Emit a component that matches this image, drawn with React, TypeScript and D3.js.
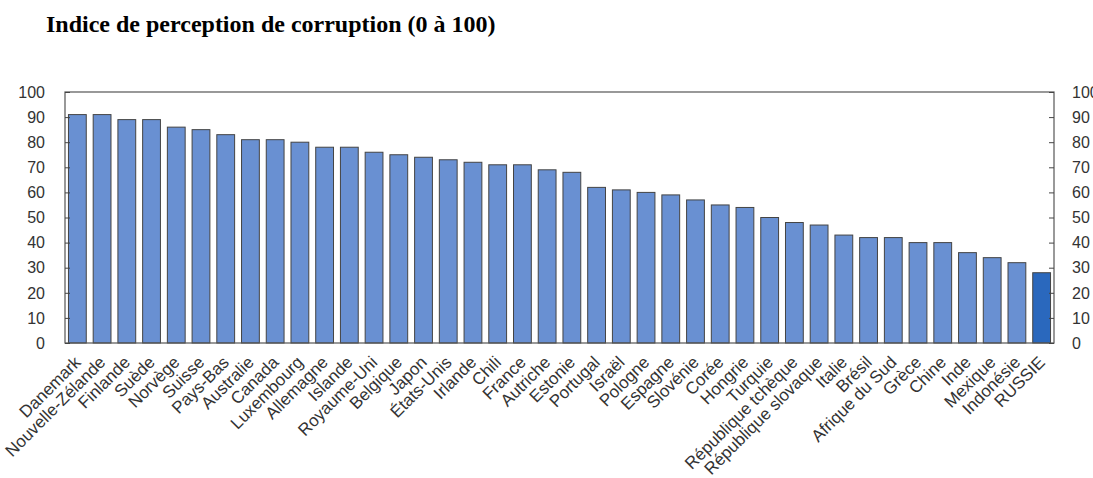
import React, { useEffect, useRef } from "react";
import * as d3 from "d3";

const countries = [
    "Danemark", "Nouvelle-Zélande", "Finlande", "Suède", "Norvège", "Suisse",
    "Pays-Bas", "Australie", "Canada", "Luxembourg", "Allemagne", "Islande",
    "Royaume-Uni", "Belgique", "Japon", "États-Unis", "Irlande", "Chili",
    "France", "Autriche", "Estonie", "Portugal", "Israël", "Pologne",
    "Espagne", "Slovénie", "Corée", "Hongrie", "Turquie", "République tchèque",
    "République slovaque", "Italie", "Brésil", "Afrique du Sud", "Grèce",
    "Chine", "Inde", "Mexique", "Indonésie", "RUSSIE",
];

const scores = [
    91, 91, 89, 89, 86, 85, 83, 81, 81, 80, 78, 78, 76, 75, 74, 73, 72, 71,
    71, 69, 68, 62, 61, 60, 59, 57, 55, 54, 50, 48, 47, 43, 42, 42, 40, 40,
    36, 34, 32, 28,
];

const highlighted = ["RUSSIE"];
const yTicks = [0, 10, 20, 30, 40, 50, 60, 70, 80, 90, 100];
const title = "Indice de perception de corruption (0 à 100)";

const width = 1093;
const height = 478;
const margins = { top: 92, right: 39, bottom: 135, left: 65 };

const App: React.FC = () => {
    const svgRef = useRef<SVGSVGElement | null>(null);

    useEffect(() => {
        if (!svgRef.current) return;
        const svg = d3.select(svgRef.current);
        svg.selectAll("*").remove();

        const x = d3
            .scaleBand<string>()
            .domain(countries)
            .range([margins.left, width - margins.right])
            .paddingInner(0.28)
            .paddingOuter(0.14);

        const y = d3
            .scaleLinear()
            .domain([0, 100])
            .range([height - margins.bottom, margins.top]);

        const font = "'Liberation Sans', Arial, sans-serif";

        // title
        svg.append("text")
            .attr("x", 46)
            .attr("y", 32)
            .attr("font-family", "'Liberation Serif', 'Times New Roman', serif")
            .attr("font-weight", "bold")
            .attr("font-size", 24)
            .attr("fill", "#000")
            .text(title);

        // bars
        svg.append("g")
            .selectAll("rect")
            .data(countries)
            .join("rect")
            .attr("x", (d) => x(d)!)
            .attr("y", (d, i) => y(scores[i]))
            .attr("width", x.bandwidth())
            .attr("height", (d, i) => y(0) - y(scores[i]))
            .attr("fill", (d) => (highlighted.includes(d) ? "#2a68bd" : "#6990d2"))
            .attr("stroke", "#444")
            .attr("stroke-width", 1);

        // frame
        svg.append("rect")
            .attr("x", margins.left)
            .attr("y", margins.top)
            .attr("width", width - margins.left - margins.right)
            .attr("height", height - margins.top - margins.bottom)
            .attr("fill", "none")
            .attr("stroke", "#555")
            .attr("stroke-width", 1.2);

        // left axis
        svg.append("g")
            .attr("transform", `translate(${margins.left},0)`)
            .call(d3.axisRight(y).tickValues(yTicks).tickSize(5).tickFormat(() => ""))
            .call((g) => g.select(".domain").remove())
            .call((g) => g.selectAll(".tick line").attr("stroke", "#444"));

        svg.append("g")
            .selectAll("text")
            .data(yTicks)
            .join("text")
            .attr("x", 45)
            .attr("y", (d) => y(d))
            .attr("dy", "0.36em")
            .attr("text-anchor", "end")
            .attr("font-family", font)
            .attr("font-size", 16)
            .attr("fill", "#333")
            .text((d) => d);

        // right axis
        svg.append("g")
            .attr("transform", `translate(${width - margins.right},0)`)
            .call(d3.axisLeft(y).tickValues(yTicks).tickSize(5).tickFormat(() => ""))
            .call((g) => g.select(".domain").remove())
            .call((g) => g.selectAll(".tick line").attr("stroke", "#444"));

        svg.append("g")
            .selectAll("text")
            .data(yTicks)
            .join("text")
            .attr("x", 1072)
            .attr("y", (d) => y(d))
            .attr("dy", "0.36em")
            .attr("text-anchor", "start")
            .attr("font-family", font)
            .attr("font-size", 16)
            .attr("fill", "#333")
            .text((d) => d);

        // category labels
        svg.append("g")
            .selectAll("text")
            .data(countries)
            .join("text")
            .attr(
                "transform",
                (d) => `translate(${x(d)! + x.bandwidth() / 2 - 4},${height - margins.bottom + 12}) rotate(-45)`
            )
            .attr("text-anchor", "end")
            .attr("dy", "0.7em")
            .attr("font-family", font)
            .attr("font-size", 17)
            .attr("fill", "#333")
            .text((d) => d);
    }, []);

    return (
        <div style={{ position: "absolute", left: 0, top: 0, background: "#fff" }}>
            <svg ref={svgRef} width={width} height={height}></svg>
        </div>
    );
};

export default App;
